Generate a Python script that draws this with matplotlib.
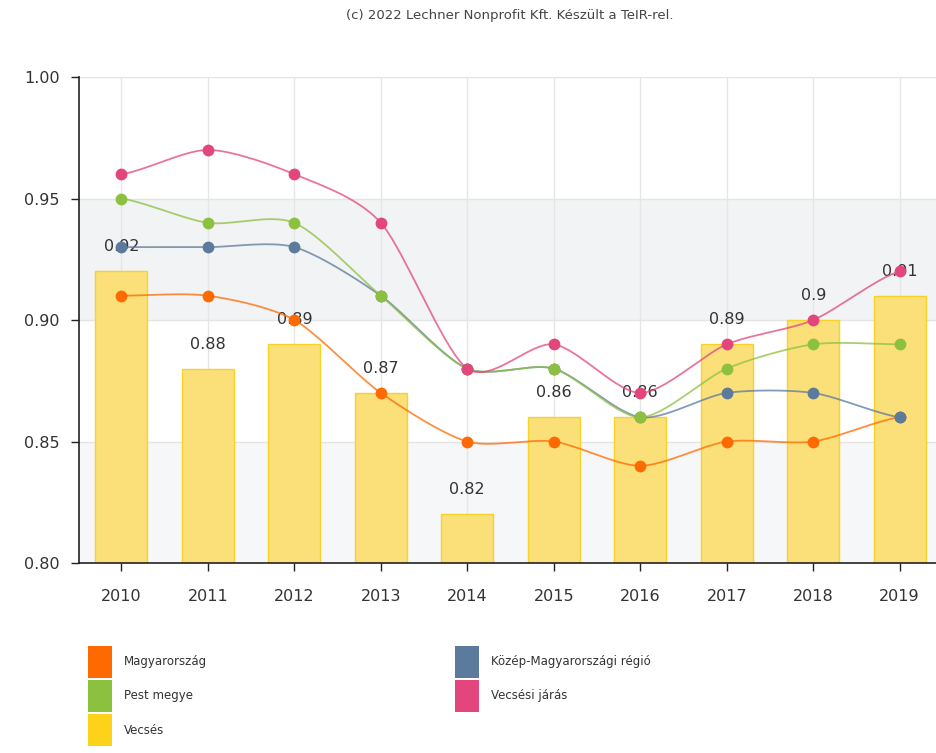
import numpy as np
import matplotlib.pyplot as plt
from matplotlib.patches import Rectangle

years = [2010, 2011, 2012, 2013, 2014, 2015, 2016, 2017, 2018, 2019]
vecses = [0.92, 0.88, 0.89, 0.87, 0.82, 0.86, 0.86, 0.89, 0.90, 0.91]
magyarorszag = [0.91, 0.91, 0.90, 0.87, 0.85, 0.85, 0.84, 0.85, 0.85, 0.86]
kozep_regio = [0.93, 0.93, 0.93, 0.91, 0.88, 0.88, 0.86, 0.87, 0.87, 0.86]
pest_megye = [0.95, 0.94, 0.94, 0.91, 0.88, 0.88, 0.86, 0.88, 0.89, 0.89]
vecsesi_jaras = [0.96, 0.97, 0.96, 0.94, 0.88, 0.89, 0.87, 0.89, 0.90, 0.92]
bar_labels = ["0.92", "0.88", "0.89", "0.87", "0.82", "0.86", "0.86", "0.89", "0.9", "0.91"]

C_ORANGE = "#ff6a00"
C_GREEN = "#8cc03f"
C_BLUE = "#5b7a9c"
C_PINK = "#e2467c"
C_YELLOW = "#ffd21a"


def smooth(x, y, n=20, k=0.8):
    # catmull-rom style path through the points (k scales the tangents)
    x = np.asarray(x, float)
    y = np.asarray(y, float)
    px = np.concatenate([[2 * x[0] - x[1]], x, [2 * x[-1] - x[-2]]])
    py = np.concatenate([[y[0]], y, [y[-1]]])
    xs, ys = [], []
    t = np.linspace(0, 1, n, endpoint=False)
    h00 = 2 * t ** 3 - 3 * t ** 2 + 1
    h10 = t ** 3 - 2 * t ** 2 + t
    h01 = -2 * t ** 3 + 3 * t ** 2
    h11 = t ** 3 - t ** 2
    for i in range(1, len(px) - 2):
        for p, out in ((px, xs), (py, ys)):
            m1 = k * (p[i + 1] - p[i - 1]) / 2
            m2 = k * (p[i + 2] - p[i]) / 2
            out.extend(h00 * p[i] + h10 * m1 + h01 * p[i + 1] + h11 * m2)
    xs.append(x[-1])
    ys.append(y[-1])
    return np.array(xs), np.array(ys)


fig = plt.figure(figsize=(9.36, 7.53), dpi=100)
ax = fig.add_axes([0.0844, 0.2523, 0.9156, 0.6454])

x = np.arange(len(years))

# background bands and grid
ax.axhspan(0.80, 0.85, color="#f6f7f8", zorder=0, lw=0)
ax.axhspan(0.90, 0.95, color="#f2f3f4", zorder=0, lw=0)
for yv in [0.85, 0.90, 0.95, 1.00]:
    ax.axhline(yv, color="#e4e4e4", lw=1, zorder=0.5)
for xv in x:
    ax.axvline(xv, color="#e6e6e6", lw=1, zorder=0.5)

ax.bar(x, vecses, width=0.6, bottom=0, color="#fbe07a", edgecolor="#f7d327",
       lw=1, zorder=1)
for xi, v, lab in zip(x, vecses, bar_labels):
    ax.text(xi, v + 0.007, lab, ha="center", va="bottom", fontsize=11.5,
            color="#333333", zorder=2)

series = [
    (magyarorszag, C_ORANGE),
    (kozep_regio, C_BLUE),
    (pest_megye, C_GREEN),
    (vecsesi_jaras, C_PINK),
]
for vals, col in series:
    sx, sy = smooth(x, vals)
    ax.plot(sx, sy, color=col, lw=1.3, alpha=0.75, zorder=3)
for vals, col in series:
    ax.plot(x, vals, "o", color=col, ms=8.5, mec="none", zorder=4)

ax.set_xlim(-0.49, 9.42)
ax.set_ylim(0.80, 1.00)
ax.set_yticks([0.80, 0.85, 0.90, 0.95, 1.00])
ax.set_yticklabels(["0.80", "0.85", "0.90", "0.95", "1.00"])
ax.set_xticks(x)
ax.set_xticklabels([str(y) for y in years])
ax.tick_params(axis="both", labelsize=11.5, labelcolor="#333333", color="#222222",
               length=6, width=1)
ax.tick_params(axis="x", pad=13)
ax.tick_params(axis="y", pad=8)

for side in ["top", "right"]:
    ax.spines[side].set_visible(False)
for side in ["left", "bottom"]:
    ax.spines[side].set_color("#222222")
    ax.spines[side].set_linewidth(1.2)

fig.text(0.545, 0.980, "(c) 2022 Lechner Nonprofit Kft. Készült a TeIR-rel.",
         ha="center", va="center", fontsize=9.5, color="#444444")

# legend as colored blocks
legend_items = [
    ("Magyarország", C_ORANGE, 88, 646),
    ("Pest megye", C_GREEN, 88, 680),
    ("Vecsés", C_YELLOW, 88, 714),
    ("Közép-Magyarországi régió", C_BLUE, 455, 646),
    ("Vecsési járás", C_PINK, 455, 680),
]
W, H = 936, 753
for name, col, px0, py0 in legend_items:
    fig.patches.append(Rectangle((px0 / W, 1 - (py0 + 32) / H), 24 / W, 32 / H,
                                 transform=fig.transFigure, color=col, lw=0))
    fig.text((px0 + 36) / W, 1 - (py0 + 16) / H, name, ha="left", va="center",
             fontsize=8.5, color="#333333")

fig.savefig("out.png", dpi=100)
